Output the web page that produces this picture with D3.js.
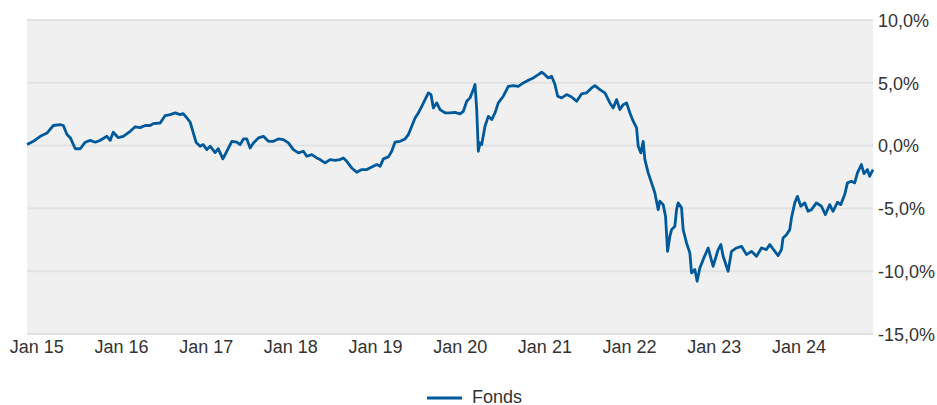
<!DOCTYPE html>
<html>
  <head>
    <meta charset="utf-8">
    <title>Fonds performance</title>
    <script src="https://d3js.org/d3.v7.min.js"></script>
    <style>
      body { margin: 0; background: #fff; }
      text { font-family: Arial, "Liberation Sans", sans-serif; fill: #333; }
    </style>
  </head>
  <body>

  <div id="chart"></div>

  <script>

  // dates as decimal years, values in %
  var dates = [
    2014.890, 2014.965, 2015.047, 2015.126, 2015.201, 2015.283, 2015.319, 2015.362, 2015.401, 2015.460,
    2015.519, 2015.578, 2015.637, 2015.696, 2015.755, 2015.834, 2015.873, 2015.909, 2015.968, 2016.027,
    2016.109, 2016.168, 2016.227, 2016.286, 2016.345, 2016.381, 2016.463, 2016.522, 2016.581, 2016.640,
    2016.699, 2016.735, 2016.778, 2016.817, 2016.853, 2016.888, 2016.935, 2016.971, 2017.014, 2017.053,
    2017.112, 2017.148, 2017.203, 2017.250, 2017.309, 2017.368, 2017.407, 2017.446, 2017.486, 2017.525,
    2017.564, 2017.623, 2017.682, 2017.741, 2017.800, 2017.859, 2017.918, 2017.977, 2018.036, 2018.095,
    2018.154, 2018.194, 2018.253, 2018.312, 2018.351, 2018.410, 2018.469, 2018.528, 2018.587, 2018.626,
    2018.666, 2018.725, 2018.784, 2018.843, 2018.903, 2018.962, 2019.021, 2019.060, 2019.099, 2019.158,
    2019.197, 2019.236, 2019.296, 2019.355, 2019.394, 2019.434, 2019.473, 2019.512, 2019.552, 2019.591,
    2019.630, 2019.661, 2019.689, 2019.729, 2019.768, 2019.827, 2019.886, 2019.945, 2020.004, 2020.043,
    2020.083, 2020.122, 2020.161, 2020.181, 2020.201, 2020.220, 2020.240, 2020.260, 2020.299, 2020.338,
    2020.378, 2020.417, 2020.456, 2020.515, 2020.574, 2020.633, 2020.692, 2020.751, 2020.810, 2020.869,
    2020.928, 2020.968, 2021.007, 2021.046, 2021.086, 2021.125, 2021.157, 2021.204, 2021.263, 2021.322,
    2021.381, 2021.440, 2021.499, 2021.558, 2021.597, 2021.656, 2021.715, 2021.774, 2021.813, 2021.853,
    2021.892, 2021.931, 2021.971, 2022.010, 2022.049, 2022.089, 2022.108, 2022.140, 2022.167, 2022.187,
    2022.226, 2022.266, 2022.305, 2022.344, 2022.364, 2022.403, 2022.431, 2022.455, 2022.482, 2022.502,
    2022.541, 2022.561, 2022.580, 2022.620, 2022.639, 2022.679, 2022.718, 2022.738, 2022.777, 2022.804,
    2022.836, 2022.875, 2022.934, 2022.993, 2023.052, 2023.084, 2023.111, 2023.170, 2023.210, 2023.269,
    2023.328, 2023.387, 2023.446, 2023.505, 2023.564, 2023.623, 2023.662, 2023.701, 2023.760, 2023.800,
    2023.819, 2023.859, 2023.898, 2023.918, 2023.957, 2023.989, 2024.028, 2024.075, 2024.114, 2024.154,
    2024.213, 2024.272, 2024.319, 2024.370, 2024.409, 2024.461, 2024.500, 2024.547, 2024.579, 2024.626,
    2024.665, 2024.697, 2024.744, 2024.775, 2024.815, 2024.842, 2024.881
  ];

  var fonds = [
    0.08, 0.34, 0.74, 1.00, 1.60, 1.67, 1.60, 0.88, 0.63, -0.25,
    -0.25, 0.27, 0.42, 0.27, 0.42, 0.74, 0.42, 1.06, 0.63, 0.74,
    1.14, 1.50, 1.43, 1.60, 1.60, 1.75, 1.80, 2.39, 2.47, 2.60,
    2.47, 2.55, 2.20, 1.86, 1.03, 0.24, -0.05, 0.08, -0.32, -0.05,
    -0.56, -0.24, -1.06, -0.45, 0.34, 0.27, 0.08, 0.53, 0.53, -0.19,
    0.21, 0.61, 0.74, 0.34, 0.34, 0.53, 0.48, 0.21, -0.32, -0.58,
    -0.45, -0.85, -0.72, -0.98, -1.11, -1.38, -1.11, -1.17, -1.11, -0.98,
    -1.25, -1.78, -2.12, -1.91, -1.91, -1.70, -1.51, -1.65, -1.06, -0.90,
    -0.45, 0.27, 0.34, 0.53, 0.88, 1.54, 2.20, 2.60, 3.13, 3.66,
    4.20, 4.06, 3.00, 3.40, 2.87, 2.60, 2.60, 2.65, 2.52, 2.73,
    3.53, 3.80, 4.46, 4.86, 2.87, -0.45, 0.21, 0.08, 1.54, 2.33,
    2.07, 2.60, 3.40, 3.93, 4.72, 4.78, 4.72, 4.99, 5.20, 5.39,
    5.65, 5.84, 5.65, 5.39, 5.52, 4.86, 3.93, 3.80, 4.06, 3.87,
    3.53, 4.12, 4.20, 4.59, 4.78, 4.46, 4.20, 3.40, 3.00, 3.66,
    2.87, 3.26, 3.40, 2.60, 1.94, 1.41, -0.05, -0.58, 0.34, -1.11,
    -2.17, -2.97, -3.77, -5.10, -4.43, -4.70, -5.63, -8.42, -7.22, -6.69,
    -6.42, -5.10, -4.56, -4.96, -6.69, -7.75, -8.54, -10.14, -9.87, -10.80,
    -9.74, -9.08, -8.15, -9.61, -8.28, -7.88, -8.81, -10.00, -8.42, -8.15,
    -8.02, -8.68, -8.42, -8.81, -8.15, -8.28, -7.88, -8.23, -8.76, -8.28,
    -7.35, -7.09, -6.69, -5.76, -4.56, -4.04, -4.83, -4.56, -5.23, -5.10,
    -4.56, -4.83, -5.49, -4.70, -5.23, -4.51, -4.70, -3.90, -2.97, -2.84,
    -2.97, -2.17, -1.51, -2.23, -1.91, -2.44, -1.91
  ];

  var yearTicks = [2015, 2016, 2017, 2018, 2019, 2020, 2021, 2022, 2023, 2024];
  var pctTicks = [-15, -10, -5, 0, 5, 10];
  var seriesName = "Fonds";

  var width = 937, height = 405;
  var plot = { x0: 27, x1: 873, y0: 20, y1: 334 };
  var lineColor = "#00599a";

  var svg = d3.select("#chart").append("svg")
      .attr("width", width)
      .attr("height", height);

  var x = d3.scaleLinear()
      .domain(d3.extent(dates))
      .range([plot.x0, plot.x1]);

  var y = d3.scaleLinear()
      .domain([-15, 10])
      .range([plot.y1, plot.y0]);

  var locale = d3.formatLocale({ decimal: ",", thousands: ".", grouping: [3], currency: ["", "€"], minus: "-" });
  var fmt = locale.format(".1f");

  // plot background
  svg.append("rect")
      .attr("x", plot.x0)
      .attr("y", plot.y0)
      .attr("width", plot.x1 - plot.x0)
      .attr("height", plot.y1 - plot.y0)
      .attr("fill", "#f0f0f0");

  // grid
  svg.selectAll(".grid")
      .data(pctTicks)
      .enter()
      .append("line")
      .attr("class", "grid")
      .attr("x1", plot.x0)
      .attr("x2", plot.x1)
      .attr("y1", function(d_){ return y(d_); })
      .attr("y2", function(d_){ return y(d_); })
      .attr("stroke", "#e2e2e2")
      .attr("stroke-width", 2);

  // y axis on the right
  var yAxis = svg.append("g")
      .attr("transform", "translate(" + (plot.x1 + 5) + ",0)")
      .call(d3.axisRight(y).tickValues(pctTicks).tickSize(0).tickPadding(0)
            .tickFormat(function(d_){ return fmt(d_) + "%"; }));
  yAxis.select(".domain").remove();
  yAxis.selectAll("text")
      .attr("font-size", 18)
      .attr("font-family", "Arial, 'Liberation Sans', sans-serif")
      .attr("fill", "#333")
      .attr("dy", "0.35em");

  // x axis
  var xAxis = svg.append("g")
      .attr("transform", "translate(0," + plot.y1 + ")")
      .call(d3.axisBottom(x).tickValues(yearTicks).tickSize(0).tickPadding(0)
            .tickFormat(function(d_){ return "Jan " + String(d_).slice(2); }));
  xAxis.select(".domain").remove();
  xAxis.selectAll("text")
      .attr("font-size", 18)
      .attr("font-family", "Arial, 'Liberation Sans', sans-serif")
      .attr("fill", "#333")
      .attr("dy", null)
      .attr("y", 19);

  // series line
  var data = dates.map(function(d_, i_){ return { t: d_, v: fonds[i_] }; });

  svg.append("path")
      .datum(data)
      .attr("fill", "none")
      .attr("stroke", lineColor)
      .attr("stroke-width", 2.8)
      .attr("stroke-linejoin", "round")
      .attr("d", d3.line()
          .x(function(d_){ return x(d_.t); })
          .y(function(d_){ return y(d_.v); }));

  // legend
  svg.append("line")
      .attr("x1", 427)
      .attr("x2", 462)
      .attr("y1", 398)
      .attr("y2", 398)
      .attr("stroke", lineColor)
      .attr("stroke-width", 3);

  svg.append("text")
      .attr("x", 472)
      .attr("y", 403)
      .attr("font-size", 18)
      .text(seriesName);

  </script>

  </body>
</html>
